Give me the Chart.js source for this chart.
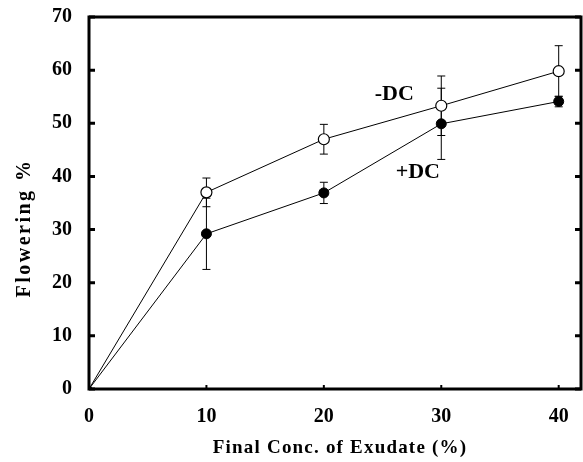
<!DOCTYPE html>
<html>
<head>
<meta charset="utf-8">
<script src="https://cdn.jsdelivr.net/npm/chart.js@4/dist/chart.umd.min.js"></script>
<style>
  html, body { margin: 0; padding: 0; background: #fff; }
  #wrap { width: 583px; height: 462px; position: relative; }
</style>
</head>
<body>
<div id="wrap"><canvas id="chart"></canvas></div>
<script>
// concentration of exudate (%)
const conc = [0, 10, 20, 30, 40];
// flowering %, without / with DC
const minusDC = [0, 37.0, 47.0, 53.3, 59.8];
const plusDC = [0, 29.2, 36.9, 49.9, 54.1];
// error bar half-lengths
const minusErr = [0, 2.7, 2.8, 5.6, 4.8];
const plusErr = [0, 6.7, 2.0, 6.7, 1.0];
const yTicks = [0, 10, 20, 30, 40, 50, 60, 70];
const xTicks = [0, 10, 20, 30, 40];
const seriesNames = ['-DC', '+DC'];
const labelSpots = [[26.0, 55.5], [28.0, 40.7]];

const serif = "'Liberation Serif', 'DejaVu Serif', serif";

const frameAndBars = {
  id: 'frameAndBars',
  beforeDatasetsDraw(chart) {
    const { ctx, scales: { x, y } } = chart;
    ctx.save();
    ctx.strokeStyle = '#000';
    ctx.lineWidth = 1;
    const errs = [minusErr, plusErr];
    chart.data.datasets.forEach((ds, i) => {
      ds.data.forEach((p, j) => {
        const e = errs[i][j];
        if (!e) return;
        const px = x.getPixelForValue(p.x);
        const top = y.getPixelForValue(p.y + e);
        const bot = y.getPixelForValue(p.y - e);
        ctx.beginPath();
        ctx.moveTo(px, top); ctx.lineTo(px, bot);
        ctx.moveTo(px - 4, top); ctx.lineTo(px + 4, top);
        ctx.moveTo(px - 4, bot); ctx.lineTo(px + 4, bot);
        ctx.stroke();
      });
    });
    ctx.restore();
  },
  afterDraw(chart) {
    const { ctx, chartArea: a, scales: { x, y } } = chart;
    ctx.save();
    ctx.strokeStyle = '#000';
    ctx.lineWidth = 3;
    ctx.strokeRect(a.left, a.top, a.right - a.left, a.bottom - a.top);
    // inward tick marks
    yTicks.forEach(v => {
      const py = y.getPixelForValue(v);
      ctx.beginPath();
      ctx.moveTo(a.left, py); ctx.lineTo(a.left + 6, py);
      ctx.moveTo(a.right, py); ctx.lineTo(a.right - 6, py);
      ctx.stroke();
    });
    ctx.lineWidth = 2;
    xTicks.forEach(v => {
      const px = x.getPixelForValue(v);
      ctx.beginPath();
      ctx.moveTo(px, a.bottom); ctx.lineTo(px, a.bottom - 4);
      ctx.stroke();
    });
    // series labels
    ctx.fillStyle = '#000';
    ctx.font = 'bold 22px ' + serif;
    ctx.textAlign = 'center';
    ctx.textBaseline = 'middle';
    seriesNames.forEach((n, i) => {
      ctx.fillText(n, x.getPixelForValue(labelSpots[i][0]), y.getPixelForValue(labelSpots[i][1]));
    });
    // axis titles
    ctx.font = 'bold 19px ' + serif;
    ctx.letterSpacing = '1.2px';
    ctx.fillText('Final Conc. of Exudate (%)', 340, 448);
    ctx.font = 'bold 20px ' + serif;
    ctx.letterSpacing = '2.5px';
    ctx.translate(25, 228);
    ctx.rotate(-Math.PI / 2);
    ctx.fillText('Flowering %', 0, 0);
    ctx.restore();
  }
};

new Chart(document.getElementById('chart'), {
  type: 'scatter',
  data: {
    datasets: [
      {
        label: seriesNames[0],
        data: conc.map((c, i) => ({ x: c, y: minusDC[i] })),
        showLine: true,
        borderColor: '#000',
        borderWidth: 1,
        backgroundColor: '#fff',
        pointBackgroundColor: conc.map(c => (c === 0 ? '#000' : '#fff')),
        pointBorderColor: '#000',
        pointBorderWidth: 1.2,
        pointRadius: conc.map(c => (c === 0 ? 2.5 : 5.5)),
        order: 2
      },
      {
        label: seriesNames[1],
        data: conc.map((c, i) => ({ x: c, y: plusDC[i] })),
        showLine: true,
        borderColor: '#000',
        borderWidth: 1,
        backgroundColor: '#000',
        pointBackgroundColor: '#000',
        pointBorderColor: '#000',
        pointRadius: conc.map(c => (c === 0 ? 2.5 : 5)),
        order: 1
      }
    ]
  },
  options: {
    responsive: true,
    maintainAspectRatio: false,
    animation: false,
    layout: { autoPadding: false, padding: { top: 17, right: 2, bottom: 0, left: 0 } },
    plugins: { legend: { display: false }, tooltip: { enabled: false } },
    scales: {
      x: {
        type: 'linear',
        min: 0,
        max: 41.9,
        afterBuildTicks: s => { s.ticks = xTicks.map(v => ({ value: v })); },
        afterFit: s => { s.height = 73; s.paddingLeft = 0; s.paddingRight = 0; },
        grid: { display: false, drawTicks: false },
        border: { display: false },
        ticks: {
          padding: 16,
          color: '#000',
          font: { family: serif, size: 20, weight: 'bold' }
        }
      },
      y: {
        min: 0,
        max: 70,
        afterBuildTicks: s => { s.ticks = yTicks.map(v => ({ value: v })); },
        afterFit: s => { s.width = 89; s.paddingTop = 0; s.paddingBottom = 0; },
        grid: { display: false, drawTicks: false },
        border: { display: false },
        ticks: {
          padding: 17,
          color: '#000',
          font: { family: serif, size: 20, weight: 'bold' }
        }
      }
    }
  },
  plugins: [frameAndBars]
});
</script>
</body>
</html>
